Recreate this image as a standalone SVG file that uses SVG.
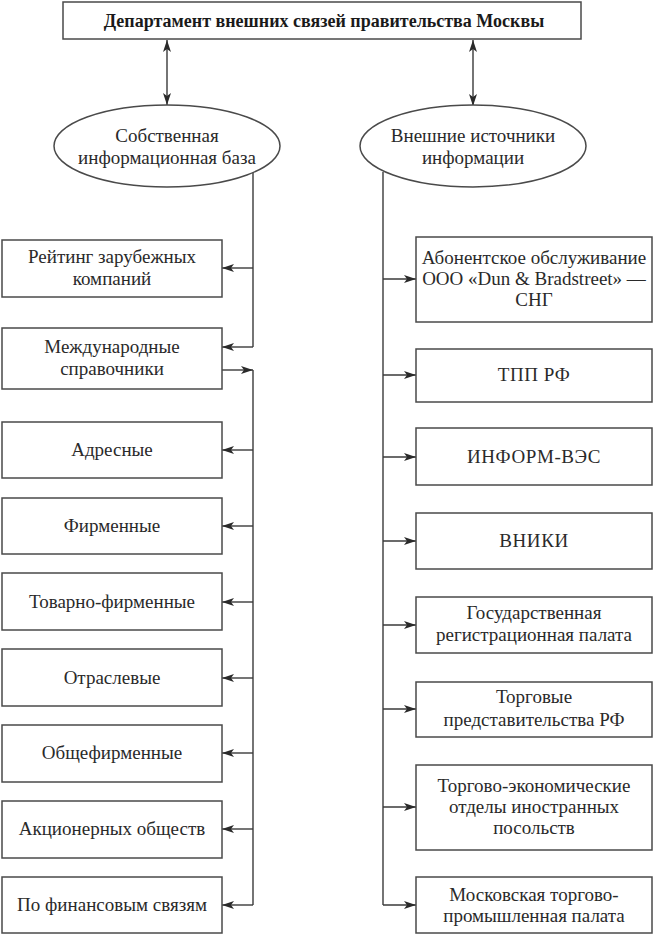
<svg xmlns="http://www.w3.org/2000/svg" width="653" height="935" viewBox="0 0 653 935">
<style>
.box{fill:#fff;stroke:#4a4a4a;stroke-width:1.5}
text{font-family:'Liberation Serif','Times New Roman',serif}
.t{font-size:19px;fill:#2a2a2a;text-anchor:middle}
.tb{font-size:18px;font-weight:bold;fill:#1a1a1a;text-anchor:middle}
.cap{letter-spacing:0.6px}
.ln{fill:none;stroke:#3a3a3a;stroke-width:1.4}
</style>
<defs>
<marker id="ah" viewBox="0 0 12 8" refX="12" refY="4" markerWidth="12" markerHeight="8" markerUnits="userSpaceOnUse" orient="auto-start-reverse">
<path d="M0,0 L12,4 L0,8 L3,4 z" fill="#2a2a2a"/>
</marker>
</defs>
<rect width="653" height="935" fill="#fff"/>

<g id="connectors">
<line class="ln" x1="167" y1="40" x2="167" y2="105" marker-start="url(#ah)" marker-end="url(#ah)"/>
<line class="ln" x1="473" y1="40" x2="473" y2="106" marker-start="url(#ah)" marker-end="url(#ah)"/>
<polyline class="ln" points="253,172 253,347"/>
<line class="ln" x1="253" y1="268" x2="222" y2="268" marker-end="url(#ah)"/>
<line class="ln" x1="253" y1="347" x2="222" y2="347" marker-end="url(#ah)"/>
<line class="ln" x1="222" y1="370" x2="253" y2="370" marker-end="url(#ah)"/>
<polyline class="ln" points="253,370 253,905"/>
<line class="ln" x1="253" y1="450" x2="222" y2="450" marker-end="url(#ah)"/>
<line class="ln" x1="253" y1="526" x2="222" y2="526" marker-end="url(#ah)"/>
<line class="ln" x1="253" y1="602" x2="222" y2="602" marker-end="url(#ah)"/>
<line class="ln" x1="253" y1="678" x2="222" y2="678" marker-end="url(#ah)"/>
<line class="ln" x1="253" y1="753" x2="222" y2="753" marker-end="url(#ah)"/>
<line class="ln" x1="253" y1="829" x2="222" y2="829" marker-end="url(#ah)"/>
<line class="ln" x1="253" y1="905" x2="222" y2="905" marker-end="url(#ah)"/>
<polyline class="ln" points="383,172 383,905"/>
<line class="ln" x1="383" y1="279" x2="416" y2="279" marker-end="url(#ah)"/>
<line class="ln" x1="383" y1="375" x2="416" y2="375" marker-end="url(#ah)"/>
<line class="ln" x1="383" y1="457" x2="416" y2="457" marker-end="url(#ah)"/>
<line class="ln" x1="383" y1="541" x2="416" y2="541" marker-end="url(#ah)"/>
<line class="ln" x1="383" y1="625" x2="416" y2="625" marker-end="url(#ah)"/>
<line class="ln" x1="383" y1="709" x2="416" y2="709" marker-end="url(#ah)"/>
<line class="ln" x1="383" y1="807" x2="416" y2="807" marker-end="url(#ah)"/>
<line class="ln" x1="383" y1="905" x2="416" y2="905" marker-end="url(#ah)"/>
</g>

<g id="dept">
<rect class="box" x="63" y="2" width="518" height="37"/>
<text class="tb" x="324" y="27">Департамент внешних связей правительства Москвы</text>
</g>

<g id="own-base">
<ellipse class="box" cx="167" cy="146" rx="113" ry="41"/>
<text class="t" x="167" y="142">Собственная</text>
<text class="t" x="167" y="164">информационная база</text>
</g>

<g id="external">
<ellipse class="box" cx="473" cy="146" rx="113" ry="41"/>
<text class="t" x="473" y="142">Внешние источники</text>
<text class="t" x="473" y="164">информации</text>
</g>

<g id="rating">
<rect class="box" x="2" y="240" width="220" height="57"/>
<text class="t" x="112" y="263">Рейтинг зарубежных</text>
<text class="t" x="112" y="285">компаний</text>
</g>
<g id="intl">
<rect class="box" x="2" y="328" width="220" height="61"/>
<text class="t" x="112" y="353">Международные</text>
<text class="t" x="112" y="375">справочники</text>
</g>
<g id="addr">
<rect class="box" x="2" y="422" width="220" height="56"/>
<text class="t" x="112" y="456">Адресные</text>
</g>
<g id="firm">
<rect class="box" x="2" y="498" width="220" height="56"/>
<text class="t" x="112" y="532">Фирменные</text>
</g>
<g id="goods">
<rect class="box" x="2" y="573" width="220" height="57"/>
<text class="t" x="112" y="608">Товарно-фирменные</text>
</g>
<g id="branch">
<rect class="box" x="2" y="649" width="220" height="57"/>
<text class="t" x="112" y="684">Отраслевые</text>
</g>
<g id="general">
<rect class="box" x="2" y="725" width="220" height="57"/>
<text class="t" x="112" y="759">Общефирменные</text>
</g>
<g id="jsc">
<rect class="box" x="2" y="801" width="220" height="57"/>
<text class="t" x="112" y="835">Акционерных обществ</text>
</g>
<g id="fin">
<rect class="box" x="2" y="877" width="220" height="56"/>
<text class="t" x="112" y="911">По финансовым связям</text>
</g>

<g id="dnb">
<rect class="box" x="416" y="237" width="236" height="85"/>
<text class="t" x="534" y="264">Абонентское обслуживание</text>
<text class="t" x="534" y="285">ООО «Dun &amp; Bradstreet» —</text>
<text class="t" x="534" y="306">СНГ</text>
</g>
<g id="tpp">
<rect class="box" x="416" y="349" width="236" height="53"/>
<text class="t cap" x="534" y="381">ТПП РФ</text>
</g>
<g id="inform">
<rect class="box" x="416" y="428" width="236" height="57"/>
<text class="t cap" x="534" y="463">ИНФОРМ-ВЭС</text>
</g>
<g id="vniki">
<rect class="box" x="416" y="513" width="236" height="56"/>
<text class="t cap" x="534" y="547">ВНИКИ</text>
</g>
<g id="reg">
<rect class="box" x="416" y="597" width="236" height="56"/>
<text class="t" x="534" y="619">Государственная</text>
<text class="t" x="534" y="641">регистрационная палата</text>
</g>
<g id="trade">
<rect class="box" x="416" y="682" width="236" height="55"/>
<text class="t" x="534" y="703">Торговые</text>
<text class="t" x="534" y="726">представительства РФ</text>
</g>
<g id="embassy">
<rect class="box" x="416" y="765" width="236" height="85"/>
<text class="t" x="534" y="792">Торгово-экономические</text>
<text class="t" x="534" y="813">отделы иностранных</text>
<text class="t" x="534" y="834">посольств</text>
</g>
<g id="mtpp">
<rect class="box" x="416" y="877" width="236" height="56"/>
<text class="t" x="534" y="901">Московская торгово-</text>
<text class="t" x="534" y="922">промышленная палата</text>
</g>
</svg>
